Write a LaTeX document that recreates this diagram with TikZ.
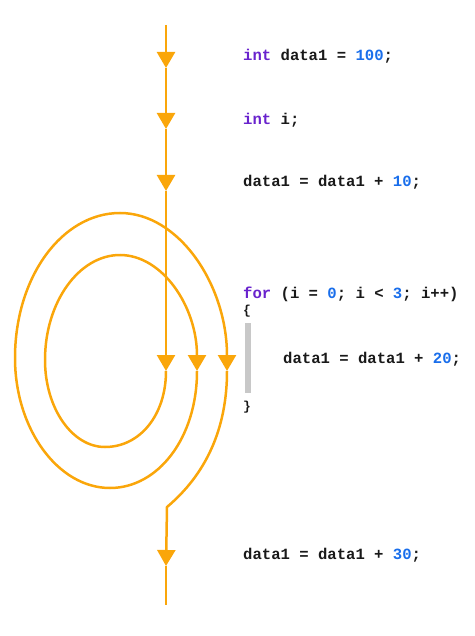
\documentclass[tikz,border=0pt]{standalone}
\usepackage{fontspec}
\setmonofont{Liberation Mono}
\usetikzlibrary{arrows.meta}
\definecolor{floworange}{RGB}{250,166,10}
\definecolor{kwpurple}{RGB}{105,35,205}
\definecolor{numblue}{RGB}{25,110,235}
\definecolor{txtblack}{RGB}{25,25,25}
\definecolor{bargray}{RGB}{200,200,200}
\newcommand{\kw}[1]{\textcolor{kwpurple}{#1}}
\newcommand{\nm}[1]{\textcolor{numblue}{#1}}

\begin{document}
\begin{tikzpicture}[x=1pt,y=-1pt,>={Triangle[width=18pt,length=16pt]},
    flow/.style={draw=floworange,line width=2.5pt,->},
    code/.style={anchor=base west,inner sep=0pt,text=txtblack,font=\ttfamily\bfseries\fontsize{15.6}{18}\selectfont}]
    \useasboundingbox (0,0) rectangle (474,636);

    % points on the flow line
    \coordinate (start) at (166,25);
    \coordinate (m1) at (166,68);
    \coordinate (m2) at (166,129);
    \coordinate (m3) at (166,191);
    \coordinate (m4) at (166,371);
    \coordinate (r1) at (197,371);
    \coordinate (r2) at (227,371);
    \coordinate (join) at (167,507);
    \coordinate (m5) at (166,566);
    \coordinate (stop) at (166,605);

    % code lines
    \node[code] (decl) at (243,61) {\kw{int} data1 = \nm{100};};
    \node[code] (decli) at (243,125) {\kw{int} i;};
    \node[code] (add10) at (243,187) {data1 = data1 + \nm{10};};
    \node[code] (loop) at (243,298) {\kw{for} (i = \nm{0}; i < \nm{3}; i++)};
    \node[code,font=\ttfamily\bfseries\fontsize{13}{15}\selectfont] (open) at (243,314) {\{};
    \node[code] (add20) at (283,363) {data1 = data1 + \nm{20};};
    \node[code,font=\ttfamily\bfseries\fontsize{13}{15}\selectfont] (close) at (243,410) {\}};
    \node[code] (add30) at (243,559) {data1 = data1 + \nm{30};};
    \fill[bargray] (245,323) rectangle (251,393);

    % straight part
    \draw[flow] (start) -- (m1);
    \draw[flow] (m1) -- (m2);
    \draw[flow] (m2) -- (m3);
    \draw[flow] (m3) -- (m4);

    % the loop, twice round
    \draw[flow] (m4) .. controls (166,415) and (140,447) .. (105,447)
        .. controls (72,447) and (45,408) .. (45,360)
        .. controls (45,302) and (79,255) .. (120,255)
        .. controls (162,255) and (197,306) .. (r1);
    \draw[flow] (r1) .. controls (197,438) and (158,488) .. (110,488)
        .. controls (58,488) and (15,429) .. (15,358)
        .. controls (15,277) and (62,213) .. (120,213)
        .. controls (179,213) and (227,285) .. (r2);
    \draw[flow] (r2) .. controls (227,430) and (205,475) .. (join) -- (m5);
    \draw[draw=floworange,line width=2.5pt] (m5) -- (stop);
\end{tikzpicture}
\end{document}
